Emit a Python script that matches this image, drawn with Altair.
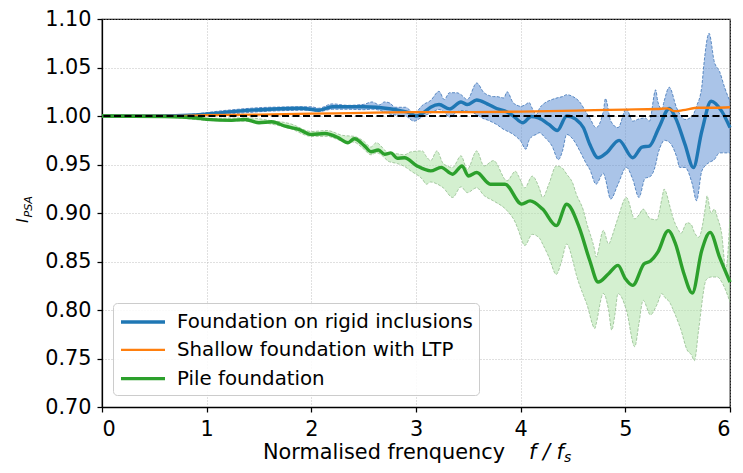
import altair as alt
import pandas as pd

series_names = ["Foundation on rigid inclusions", "Shallow foundation with LTP", "Pile foundation"]
series_colors = ["#1f77b4", "#ff7f0e", "#2ca02c"]
series_widths = [3.4, 2.3, 3.4]

x_ticks = [0, 1, 2, 3, 4, 5, 6]
y_ticks = [0.70, 0.75, 0.80, 0.85, 0.90, 0.95, 1.00, 1.05, 1.10]

# Foundation on rigid inclusions (mean)
blue_x = [0, 0.5, 0.9, 1.1, 1.3, 1.6, 1.9, 2.07, 2.2, 2.5, 2.75, 2.85, 2.94, 3.0, 3.07, 3.14,
          3.22, 3.32, 3.43, 3.49, 3.58, 3.68, 3.77, 3.87, 3.93, 4.02, 4.1, 4.17, 4.27, 4.35,
          4.44, 4.53, 4.6, 4.66, 4.74, 4.82, 4.94, 5.07, 5.16, 5.23, 5.32, 5.42, 5.48, 5.57,
          5.65, 5.73, 5.82, 5.92, 6.0]
blue_y = [1.0, 1.0, 1.001, 1.003, 1.005, 1.007, 1.008, 1.006, 1.0095, 1.0095, 1.0075, 1.0055,
          1.0032, 1.0, 1.0032, 1.009, 1.0118, 1.0073, 1.0145, 1.0118, 1.0165, 1.0125, 1.0077,
          1.0042, 1.0, 0.993, 0.9995, 0.998, 0.9913, 0.985, 1.0, 0.9964, 0.9878, 0.9708, 0.957,
          0.962, 0.9749, 0.957, 0.968, 0.969, 0.9878, 1.0077, 0.998, 0.9708, 0.9468, 0.984,
          1.0152, 1.005, 0.988]

# Shallow foundation with LTP
orange_x = [0, 0.6, 1.0, 1.5, 2.0, 2.5, 2.75, 3.0, 3.5, 4.0, 4.4, 4.7, 5.0, 5.3, 5.4, 5.47,
            5.55, 5.7, 5.85, 6.0]
orange_y = [1.0, 1.0, 1.0008, 1.0015, 1.0025, 1.0032, 1.0038, 1.004, 1.004, 1.0045, 1.0052,
            1.006, 1.0066, 1.0072, 1.0078, 1.005, 1.006, 1.0085, 1.0085, 1.009]

# Pile foundation (mean)
green_x = [0, 0.6, 0.9, 1.0, 1.24, 1.37, 1.5, 1.62, 1.75, 1.88, 2.0, 2.13, 2.26, 2.35, 2.41,
           2.51, 2.57, 2.64, 2.7, 2.76, 2.82, 2.89, 3.01, 3.14, 3.24, 3.35, 3.44, 3.5, 3.58,
           3.71, 3.85, 4.01, 4.09, 4.21, 4.34, 4.44, 4.56, 4.66, 4.74, 4.84, 4.93, 5.0, 5.07,
           5.18, 5.24, 5.31, 5.41, 5.48, 5.56, 5.64, 5.73, 5.81, 5.9, 6.0]
green_y = [1.0, 0.9995, 0.998, 0.9965, 0.9955, 0.9964, 0.993, 0.994, 0.9895, 0.9862, 0.981,
           0.982, 0.9775, 0.9724, 0.9765, 0.969, 0.9632, 0.965, 0.9605, 0.962, 0.9565, 0.957,
           0.9485, 0.9434, 0.947, 0.940, 0.9485, 0.9382, 0.9417, 0.9297, 0.9297, 0.9092,
           0.9125, 0.904, 0.887, 0.909, 0.885, 0.851, 0.8288, 0.8374, 0.846, 0.8323, 0.8254,
           0.8477, 0.8505, 0.8596, 0.8818, 0.868, 0.8374, 0.8175, 0.8613, 0.880, 0.8545, 0.8288]

# Rigid inclusions band
blue_band_x = [0.0, 0.8, 1.2, 1.6, 2.0, 2.07, 2.2, 2.35, 2.5, 2.58, 2.65, 2.7, 2.75, 2.8, 2.9,
               2.98, 3.07, 3.14, 3.22, 3.27, 3.32, 3.39, 3.43, 3.49, 3.58, 3.65, 3.68, 3.74,
               3.77, 3.84, 3.87, 3.93, 3.95, 4.0, 4.05, 4.08, 4.11, 4.15, 4.18, 4.23, 4.3,
               4.36, 4.4, 4.44, 4.5, 4.56, 4.63, 4.66, 4.72, 4.79, 4.81, 4.86, 4.93, 5.01,
               5.07, 5.13, 5.19, 5.23, 5.29, 5.31, 5.35, 5.37, 5.42, 5.49, 5.52, 5.57, 5.64,
               5.68, 5.73, 5.75, 5.8, 5.85, 5.9, 5.95, 6.0]
blue_band_lo = [1.0, 0.9995, 1.002, 1.005, 1.006, 1.0045, 1.007, 1.007, 1.0065, 1.007, 1.006,
                1.004, 1.002, 1.001, 1.0, 0.9947, 0.9998, 1.003, 1.0067, 1.004, 0.999, 1.004,
                1.0057, 1.005, 1.0015, 0.997, 0.996, 0.993, 0.9913, 0.986, 0.9845, 0.981,
                0.9793, 0.9742, 0.9657, 0.975, 0.979, 0.981, 0.9828, 0.978, 0.969, 0.955, 0.964,
                0.981, 0.976, 0.965, 0.9503, 0.945, 0.9297, 0.941, 0.935, 0.9144, 0.9297, 0.947,
                0.935, 0.916, 0.936, 0.937, 0.950, 0.960, 0.972, 0.975, 0.973, 0.958, 0.947,
                0.947, 0.9297, 0.9127, 0.943, 0.947, 0.952, 0.955, 0.962, 0.962, 0.962]
blue_band_hi = [1.0, 1.0015, 1.006, 1.009, 1.0095, 1.008, 1.0125, 1.011, 1.012, 1.0145, 1.0115,
                1.0145, 1.0134, 1.009, 1.009, 1.003, 1.0118, 1.016, 1.0254, 1.017, 1.024, 1.024,
                1.022, 1.017, 1.034, 1.024, 1.022, 1.020, 1.020, 1.0186, 1.025, 1.0134, 1.012,
                1.010, 1.012, 1.014, 1.008, 1.0015, 1.008, 1.0134, 1.017, 1.019, 1.020, 1.022,
                1.020, 1.015, 1.003, 0.998, 0.988, 1.005, 1.018, 0.995, 0.988, 1.0077, 0.9947,
                0.997, 0.998, 0.9947, 1.027, 1.015, 1.007, 1.015, 1.0296, 1.0084, 1.002, 0.9964,
                0.9998, 1.010, 1.030, 1.0528, 1.0852, 1.056, 1.046, 1.029, 1.015]

# Pile foundation band
green_band_x = [0.0, 0.6, 1.0, 1.4, 1.6, 1.8, 2.0, 2.15, 2.3, 2.41, 2.5, 2.57, 2.62, 2.7, 2.73,
                2.82, 2.89, 2.95, 3.06, 3.1, 3.14, 3.2, 3.26, 3.35, 3.43, 3.49, 3.58, 3.65,
                3.74, 3.87, 3.95, 3.98, 4.04, 4.11, 4.18, 4.21, 4.27, 4.34, 4.39, 4.44, 4.5,
                4.53, 4.6, 4.63, 4.71, 4.72, 4.79, 4.84, 4.87, 4.9, 4.93, 5.01, 5.09, 5.13,
                5.17, 5.24, 5.3, 5.35, 5.37, 5.43, 5.45, 5.51, 5.53, 5.59, 5.63, 5.66, 5.7,
                5.77, 5.78, 5.82, 5.85, 5.88, 5.92, 5.96, 6.0]
green_band_lo = [1.0, 0.999, 0.9955, 0.9945, 0.992, 0.987, 0.979, 0.979, 0.974, 0.973, 0.966,
                 0.960, 0.962, 0.957, 0.9536, 0.951, 0.948, 0.9434, 0.935, 0.9297, 0.932, 0.930,
                 0.926, 0.916, 0.927, 0.921, 0.926, 0.918, 0.9125, 0.9024, 0.890, 0.8818,
                 0.8665, 0.878, 0.874, 0.868, 0.8545, 0.8367, 0.850, 0.868, 0.850, 0.837, 0.815,
                 0.8067, 0.781, 0.785, 0.817, 0.800, 0.7793, 0.795, 0.817, 0.800, 0.7622, 0.786,
                 0.810, 0.795, 0.805, 0.817, 0.814, 0.8067, 0.802, 0.786, 0.780, 0.7588, 0.754,
                 0.7478, 0.7793, 0.8306, 0.832, 0.834, 0.834, 0.834, 0.829, 0.820, 0.808]
green_band_hi = [1.0, 1.0, 0.9975, 0.998, 0.9955, 0.992, 0.984, 0.985, 0.980, 0.979, 0.974,
                 0.968, 0.9725, 0.965, 0.962, 0.961, 0.960, 0.963, 0.964, 0.958, 0.954, 0.964,
                 0.951, 0.947, 0.959, 0.945, 0.964, 0.9485, 0.954, 0.9332, 0.943, 0.938, 0.926,
                 0.938, 0.925, 0.916, 0.930, 0.9485, 0.947, 0.940, 0.930, 0.920, 0.9024, 0.890,
                 0.860, 0.8545, 0.882, 0.868, 0.875, 0.885, 0.895, 0.916, 0.894, 0.898, 0.904,
                 0.894, 0.893, 0.915, 0.9246, 0.905, 0.897, 0.882, 0.879, 0.890, 0.888, 0.880,
                 0.875, 0.910, 0.9177, 0.900, 0.904, 0.895, 0.879, 0.842, 0.896]

FONT = "DejaVu Sans"
FS = 20.8

means = pd.concat([
    pd.DataFrame({"x": blue_x, "y": blue_y, "series": series_names[0]}),
    pd.DataFrame({"x": orange_x, "y": orange_y, "series": series_names[1]}),
    pd.DataFrame({"x": green_x, "y": green_y, "series": series_names[2]}),
], ignore_index=True)
blue_band = pd.DataFrame({"x": blue_band_x, "lo": blue_band_lo, "hi": blue_band_hi})
green_band = pd.DataFrame({"x": green_band_x, "lo": green_band_lo, "hi": green_band_hi})

xscale = alt.Scale(domain=[0, 6], nice=False, zero=False)
yscale = alt.Scale(domain=[0.70, 1.10], nice=False, zero=False)
X = alt.X("x:Q", scale=xscale,
          axis=alt.Axis(values=x_ticks, title=None, format="d", labelPadding=7))
Y = alt.Y("y:Q", scale=yscale,
          axis=alt.Axis(values=y_ticks, title=None, format=".2f", labelPadding=6))

color = alt.Color("series:N", title=None,
                  scale=alt.Scale(domain=series_names, range=series_colors))
width = alt.StrokeWidth("series:N", title=None,
                        scale=alt.Scale(type="ordinal", domain=series_names,
                                        range=series_widths))


def band(df, fill, edge):
    base = alt.Chart(df)
    area = base.mark_area(color=fill, opacity=0.5, interpolate="monotone").encode(
        x=alt.X("x:Q", scale=xscale), y=alt.Y("lo:Q", scale=yscale), y2="hi:Q")
    lo = base.mark_line(color=edge, strokeWidth=0.8, strokeDash=[3, 1.5],
                        interpolate="monotone").encode(
        x=alt.X("x:Q", scale=xscale), y=alt.Y("lo:Q", scale=yscale))
    hi = base.mark_line(color=edge, strokeWidth=0.8, strokeDash=[3, 1.5],
                        interpolate="monotone").encode(
        x=alt.X("x:Q", scale=xscale), y=alt.Y("hi:Q", scale=yscale))
    return [area, lo, hi]


def mean_line(name):
    return alt.Chart(means).transform_filter(alt.datum.series == name).mark_line(
        interpolate="monotone", strokeCap="butt").encode(
        x=X, y=Y, color=color, strokeWidth=width, order="x:Q")


ref = alt.Chart(pd.DataFrame({"v": [1.0]})).mark_rule(
    color="black", strokeWidth=1.8, strokeDash=[7, 3.5]).encode(
    y=alt.Y("v:Q", scale=yscale))


def label(txt, x, y, size, style="normal", angle=0, align="left", baseline="alphabetic"):
    return alt.Chart(pd.DataFrame({"t": [txt]})).mark_text(
        font=FONT, fontSize=size, fontStyle=style, angle=angle, align=align,
        baseline=baseline, color="black").encode(
        x=alt.value(x), y=alt.value(y), text="t:N")


layers = (band(blue_band, "#5589d1", "#3b72b5") + band(green_band, "#a9e1a1", "#93bd8e") +
          [mean_line(series_names[0]), mean_line(series_names[1]), mean_line(series_names[2]),
           ref,
           label("Normalised frenquency", 161, 440, FS),
           label("f / f", 427, 440, FS, "italic"),
           label("s", 462, 442.5, 14, "italic"),
           label("I", -74, 204, 16, "italic", angle=270),
           label("PSA", -70.5, 198.5, 11.2, "italic", angle=270)])

chart = alt.layer(*layers).properties(
    width=628, height=388,
    autosize=alt.AutoSizeParams(type="none"),
    padding={"left": 94, "top": 11, "right": 5, "bottom": 58},
).configure_view(
    stroke="black", strokeWidth=1.25
).configure_axis(
    labelFont=FONT, labelFontSize=FS, labelColor="black",
    tickColor="black", tickSize=5, tickWidth=1.25,
    domainColor="black", domainWidth=1.25,
    grid=True, gridColor="#b0b0b0", gridDash=[1, 2], gridWidth=0.8,
).configure_legend(
    orient="none", legendX=11, legendY=284,
    labelFont=FONT, labelFontSize=19.8, labelColor="black", labelLimit=500,
    symbolType="M-1,0L3,0", symbolSize=484, labelOffset=32, rowPadding=5.3,
    padding=6, strokeColor="#cccccc", fillColor="rgba(255,255,255,0.85)",
    cornerRadius=4,
)

chart.save("out.html", embed_options={"renderer": "svg", "actions": False})
